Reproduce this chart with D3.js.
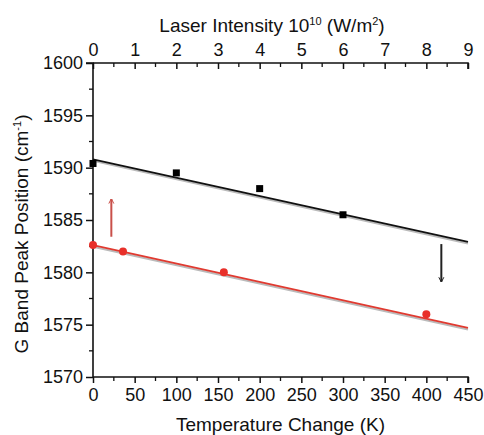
<!DOCTYPE html>
<html>
<head>
<meta charset="utf-8">
<script src="https://cdn.jsdelivr.net/npm/d3@7"></script>
<style>
  body { margin: 0; background: #fff; }
  text { font-family: Arial, "Liberation Sans", sans-serif; fill: #111; }
</style>
</head>
<body>
<svg id="chart" width="484" height="435"></svg>
<script>
// data
var blackTemp = [0, 100, 200, 300];
var blackPeak = [1590.4, 1589.5, 1588.0, 1585.5];
var redTemp = [0, 36, 157, 400];
var redPeak = [1582.6, 1582.0, 1580.0, 1576.0];
var blackFit = [[0, 1590.8], [450, 1582.9]];
var redFit = [[0, 1582.6], [450, 1574.7]];
var upArrow = [[22, 1583.4], [22, 1587.0]];
var downArrow = [[418, 1582.7], [418, 1579.1]];
var tempTicks = [0, 50, 100, 150, 200, 250, 300, 350, 400, 450];
var laserTicks = [0, 1, 2, 3, 4, 5, 6, 7, 8, 9];
var peakTicks = [1570, 1575, 1580, 1585, 1590, 1595, 1600];

var svg = d3.select('#chart');
var margin = {left: 93, right: 16, top: 63, bottom: 58};
var w = 484 - margin.left - margin.right;
var h = 435 - margin.top - margin.bottom;

var x = d3.scaleLinear().domain([0, 450]).range([0, w]);
var x2 = d3.scaleLinear().domain([0, 9]).range([0, w]);
var y = d3.scaleLinear().domain([1570, 1600]).range([h, 0]);

var defs = svg.append('defs');
function marker(id, color) {
    defs.append('marker')
        .attr('id', id)
        .attr('viewBox', '0 0 10 10')
        .attr('refX', 9).attr('refY', 5)
        .attr('markerWidth', 5).attr('markerHeight', 7)
        .attr('markerUnits', 'userSpaceOnUse')
        .attr('orient', 'auto')
        .append('path')
        .attr('d', 'M0,0 L10,5 L0,10')
        .attr('fill', 'none')
        .attr('stroke', color)
        .attr('stroke-width', 2);
}
marker('headRed', '#c9504a');
marker('headBlack', '#222');

var g = svg.append('g').attr('transform', 'translate(' + margin.left + ',' + margin.top + ')');

// axes
var fontSize = '18px';
var minorX = d3.range(25, 450, 50);
var minorY = d3.range(1572.5, 1600, 5);
var minorTop = d3.range(0.5, 9, 1);

var bottomAx = g.append('g').attr('transform', 'translate(0,' + h + ')')
    .call(d3.axisBottom(x).tickValues(tempTicks).tickSize(6).tickPadding(5).tickFormat(d3.format('d')));
bottomAx.append('g').selectAll('line').data(minorX).enter().append('line')
    .attr('x1', function(d){ return x(d); }).attr('x2', function(d){ return x(d); })
    .attr('y1', 0).attr('y2', 4).attr('stroke', '#111').attr('stroke-width', 1.3);

var topAx = g.append('g')
    .call(d3.axisTop(x2).tickValues(laserTicks).tickSize(-6).tickPadding(7).tickFormat(d3.format('d')));
topAx.append('g').selectAll('line').data(minorTop).enter().append('line')
    .attr('x1', function(d){ return x2(d); }).attr('x2', function(d){ return x2(d); })
    .attr('y1', 0).attr('y2', 4).attr('stroke', '#111').attr('stroke-width', 1.3);

var leftAx = g.append('g')
    .call(d3.axisLeft(y).tickValues(peakTicks).tickSize(7).tickPadding(3).tickFormat(d3.format('d')));
leftAx.append('g').selectAll('line').data(minorY).enter().append('line')
    .attr('y1', function(d){ return y(d); }).attr('y2', function(d){ return y(d); })
    .attr('x1', 0).attr('x2', -4).attr('stroke', '#111').attr('stroke-width', 1.3);

[bottomAx, topAx, leftAx].forEach(function(a){
    a.attr('font-size', fontSize).attr('font-family', null);
    a.select('.domain').attr('stroke', '#111').attr('stroke-width', 1.6);
    a.selectAll('.tick line').attr('stroke', '#111').attr('stroke-width', 1.5);
    a.selectAll('.tick text').attr('fill', '#111');
});
// open-ended axis paths (no outer caps at the far ends)
bottomAx.select('.domain').attr('d', 'M0,0H' + w + 'V6');
topAx.select('.domain').attr('d', 'M0,0H' + w + 'V6');
leftAx.select('.domain').attr('d', 'M-7,0H0V' + h);

// fit lines with a faint gray shadow
var line = d3.line().x(function(d){ return x(d[0]); }).y(function(d){ return y(d[1]); });
[[blackFit, '#111'], [redFit, '#e03a30']].forEach(function(p){
    g.append('path').attr('d', line(p[0])).attr('fill', 'none')
        .attr('stroke', '#bbb').attr('stroke-width', 2).attr('transform', 'translate(0,1.6)');
    g.append('path').attr('d', line(p[0])).attr('fill', 'none')
        .attr('stroke', p[1]).attr('stroke-width', 1.8);
});

// black squares
g.selectAll('.sq').data(blackTemp).enter().append('rect')
    .attr('class', 'sq')
    .attr('x', function(d){ return x(d) - 3.5; })
    .attr('y', function(d, i){ return y(blackPeak[i]) - 3.5; })
    .attr('width', 7).attr('height', 7)
    .attr('fill', '#000');

// red circles
g.selectAll('.dot').data(redTemp).enter().append('circle')
    .attr('class', 'dot')
    .attr('cx', function(d){ return x(d); })
    .attr('cy', function(d, i){ return y(redPeak[i]); })
    .attr('r', 4)
    .attr('fill', '#e8302a');

// arrows
g.append('path').attr('d', line(upArrow)).attr('stroke', '#c9504a').attr('stroke-width', 2)
    .attr('fill', 'none').attr('marker-end', 'url(#headRed)');
g.append('path').attr('d', line(downArrow)).attr('stroke', '#222').attr('stroke-width', 2)
    .attr('fill', 'none').attr('marker-end', 'url(#headBlack)');

// titles
svg.append('text').attr('x', margin.left + w / 2).attr('y', 431)
    .attr('text-anchor', 'middle').style('font-size', '19px')
    .text('Temperature Change (K)');

var t2 = svg.append('text').attr('x', 272).attr('y', 32)
    .attr('text-anchor', 'middle').style('font-size', '19px');
t2.append('tspan').text('Laser Intensity 10');
t2.append('tspan').attr('dy', -7).style('font-size', '11px').text('10');
t2.append('tspan').attr('dy', 7).text(' (W/m');
t2.append('tspan').attr('dy', -7).style('font-size', '11px').text('2');
t2.append('tspan').attr('dy', 7).text(')');

var t3 = svg.append('text').attr('transform', 'translate(28,234) rotate(-90)')
    .attr('text-anchor', 'middle').style('font-size', '19px');
t3.append('tspan').text('G Band Peak Position (cm');
t3.append('tspan').attr('dy', -7).style('font-size', '11px').text('-1');
t3.append('tspan').attr('dy', 7).text(')');
</script>
</body>
</html>
